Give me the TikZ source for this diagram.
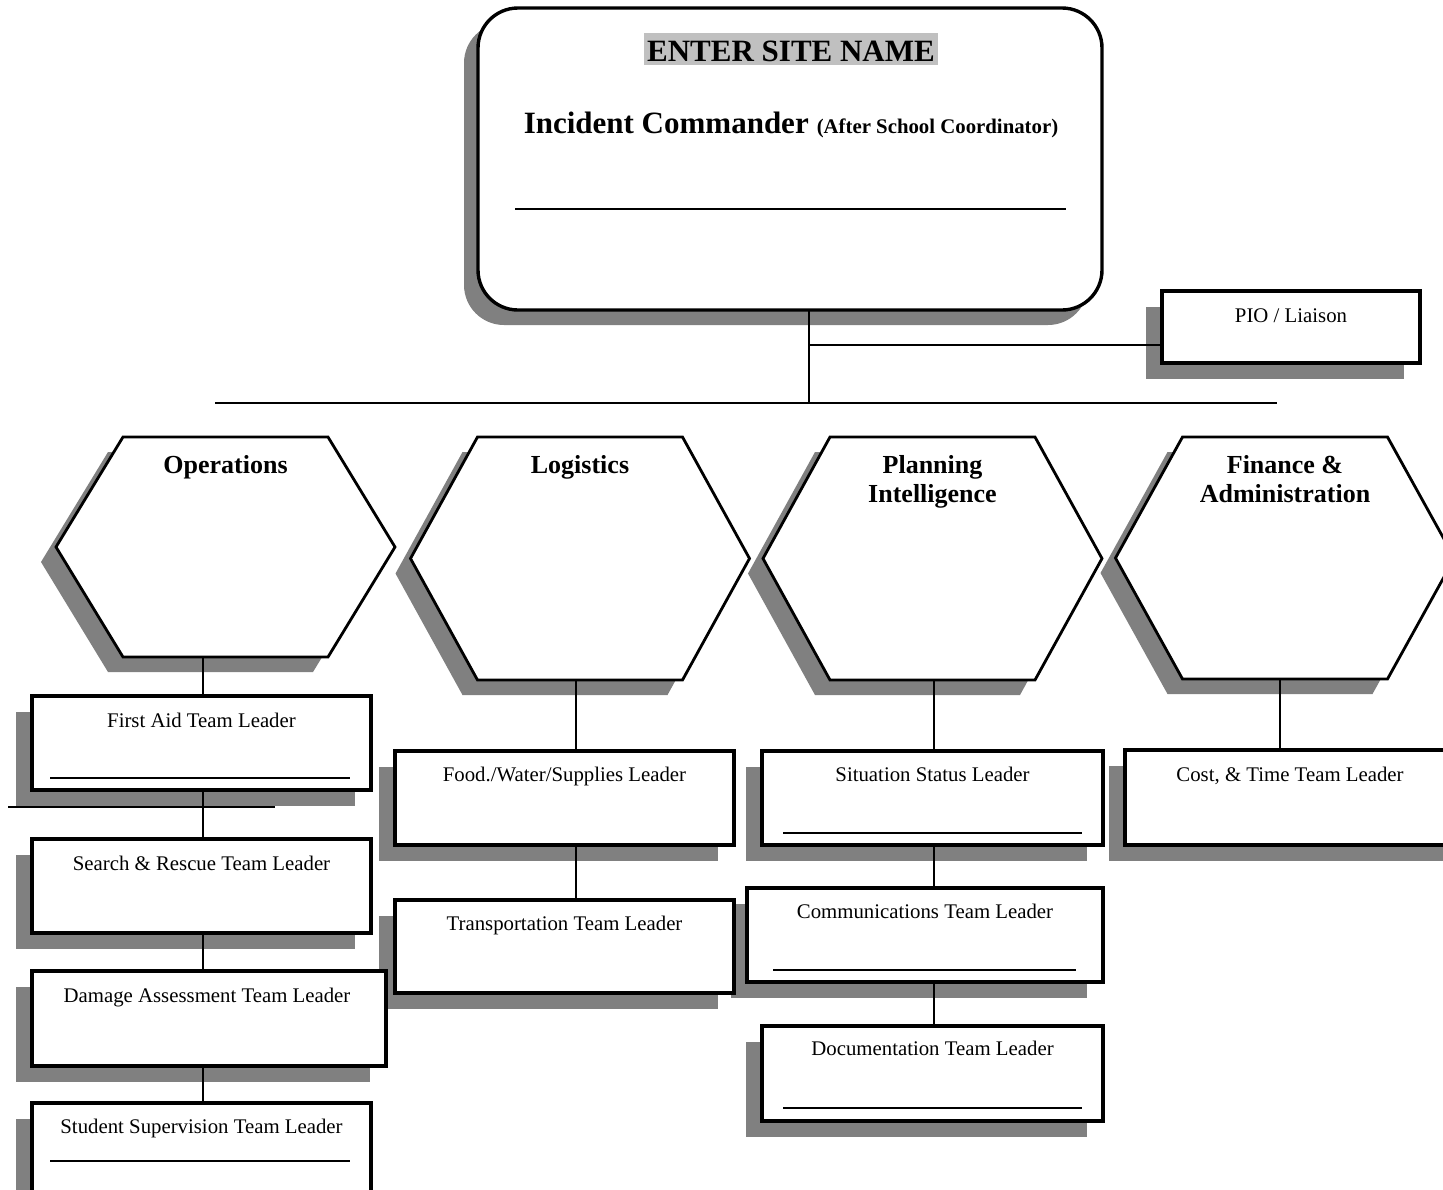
\documentclass[tikz,border=0pt]{standalone}
\usepackage{fontspec}
\setmainfont{Liberation Serif}
\usetikzlibrary{calc,shadows}
\definecolor{shadowgray}{RGB}{128,128,128}
\definecolor{hilite}{RGB}{192,192,192}
\tikzset{
  hexcore/.style={minimum width=205pt, anchor=north, inner sep=0pt, outer sep=0pt},
  hexline/.style={draw=black, fill=white, line width=2.8pt, line join=miter},
  hexshadow/.style={fill=shadowgray, draw=none},
  hextitle/.style={font=\fontsize{26}{29.5}\selectfont\bfseries, align=center, anchor=north, inner sep=0pt},
  lbox/.style={draw=black, fill=white, line width=3.4pt, anchor=north west, inner sep=0pt, outer sep=0pt,
    drop shadow={shadow xshift=-16pt, shadow yshift=-16pt, fill=shadowgray, opacity=1}},
  mainbox/.style={draw=black, fill=white, line width=3.4pt, rounded corners=40pt, anchor=north west,
    inner sep=0pt, outer sep=0pt, minimum width=624pt, minimum height=302pt,
    drop shadow={shadow xshift=-14pt, shadow yshift=-15pt, fill=shadowgray, opacity=1}},
  lbl/.style={font=\fontsize{20.8}{24}\selectfont, anchor=base, inner sep=0pt},
  sig/.style={draw=black, line width=2pt},
  conn/.style={draw=black, line width=2.8pt}
}
\newcommand\hexa[4]{%
  \node[hexcore, minimum height=#3pt] (#1) at (#2,437) {};
  \path[hexshadow] ($(#1.north west)+(-15,15)$) -- ($(#1.north east)+(-15,15)$) -- ($(#1.east)+(52,15)$)
     -- ($(#1.south east)+(-15,15)$) -- ($(#1.south west)+(-15,15)$) -- ($(#1.west)+(-82,15)$) -- cycle;
  \draw[hexline] (#1.north west) -- (#1.north east) -- ($(#1.east)+(67,0)$) -- (#1.south east)
     -- (#1.south west) -- ($(#1.west)+(-67,0)$) -- cycle;
  \node[hextitle] (#1-t) at ($(#1.north)+(0,18)$) {#4};
}
\begin{document}
\begin{tikzpicture}[x=1pt,y=-1pt]
\useasboundingbox[fill=white] (0,0) rectangle (1443,1189);

% Incident commander
\node[mainbox] (ic) at (478,8) {};
\node[fill=hilite, font=\fontsize{31}{36}\selectfont\bfseries, text height=24pt, text depth=0pt,
  inner xsep=3pt, inner ysep=4pt, anchor=base] (site) at (791,61) {ENTER SITE NAME};
\node[anchor=base, inner sep=0pt] (icname) at (791,133)
  {{\fontsize{31}{36}\selectfont\bfseries Incident Commander}\hspace{8pt}{\fontsize{20.8}{24}\selectfont\bfseries (After School Coordinator)}};
\draw[sig] ($(ic.north west)+(37,201)$) -- ($(ic.north east)+(-36,201)$);

% PIO
\node[lbox, minimum width=258pt, minimum height=72pt] (pio) at (1162,291) {};
\node[lbl] (pio-t) at ($(pio.north)+(0,31)$) {PIO / Liaison};

% Hexagons (right to left)
\hexa{fin}{1285}{242}{Finance \&\\Administration}
\hexa{plan}{932.5}{243}{Planning\\Intelligence}
\hexa{logi}{580}{243}{Logistics}
\hexa{ops}{225.5}{220}{Operations}

% Finance column
\node[lbox, minimum width=335pt, minimum height=95pt] (ct) at (1125,750) {};
\node[lbl] (ct-t) at (1290,781) {Cost, \& Time Team Leader};

% Planning column
\node[lbox, minimum width=341pt, minimum height=94pt] (st) at (762,751) {};
\node[lbl] (st-t) at ($(st.north)+(0,30)$) {Situation Status Leader};
\draw[sig] ($(st.south west)+(21,-12)$) -- ($(st.south east)+(-21,-12)$);
\node[lbox, minimum width=356pt, minimum height=94pt] (cm) at (747,888) {};
\node[lbl] (cm-t) at ($(cm.north)+(0,30)$) {Communications Team Leader};
\draw[sig] ($(cm.south west)+(26,-12)$) -- ($(cm.south east)+(-27,-12)$);
\node[lbox, minimum width=341pt, minimum height=95pt] (dc) at (762,1026) {};
\node[lbl] (dc-t) at ($(dc.north)+(0,29.5)$) {Documentation Team Leader};
\draw[sig] ($(dc.south west)+(21,-13)$) -- ($(dc.south east)+(-21,-13)$);

% Logistics column
\node[lbox, minimum width=339pt, minimum height=94pt] (fw) at (395,751) {};
\node[lbl] (fw-t) at ($(fw.north)+(0,30)$) {Food./Water/Supplies Leader};
\node[lbox, minimum width=339pt, minimum height=93pt] (tr) at (395,900) {};
\node[lbl] (tr-t) at ($(tr.north)+(0,30)$) {Transportation Team Leader};

% Operations column
\node[lbox, minimum width=339pt, minimum height=94pt] (fa) at (32,696) {};
\node[lbl] (fa-t) at ($(fa.north)+(0,31)$) {First Aid Team Leader};
\draw[sig] ($(fa.south west)+(18,-12)$) -- ($(fa.south east)+(-21,-12)$);
\node[lbox, minimum width=339pt, minimum height=94pt] (sr) at (32,839) {};
\node[lbl] (sr-t) at ($(sr.north)+(0,31)$) {Search \& Rescue Team Leader};
\node[lbox, minimum width=354pt, minimum height=95pt] (da) at (32,971) {};
\node[lbl] (da-t) at ($(da.north)+(-2,31)$) {Damage Assessment Team Leader};
\node[lbox, minimum width=339pt, minimum height=100pt] (ss) at (32,1103) {};
\node[lbl] (ss-t) at ($(ss.north)+(0,30)$) {Student Supervision Team Leader};
\draw[sig] ($(ss.north west)+(18,58)$) -- ($(ss.north east)+(-21,58)$);

% Connectors
\coordinate (j1) at (809,403);
\coordinate (pj) at (809,345);
\coordinate (hl) at (215,403);
\coordinate (hr) at (1277,403);
\draw[conn] (ic.south -| j1) -- (j1);
\draw[conn] (pj) -- (pj -| pio.west);
\draw[conn] (hl) -- (hr);

\coordinate (xo) at (203,0);
\draw[conn] (ops.south -| xo) -- (fa.north -| xo);
\draw[conn] (fa.south -| xo) -- (sr.north -| xo);
\draw[conn] (sr.south -| xo) -- (da.north -| xo);
\draw[conn] (da.south -| xo) -- (ss.north -| xo);
\coordinate (s1) at (8,807);
\coordinate (s2) at (275,807);
\draw[conn] (s1) -- (s2);

\coordinate (xl) at (576,0);
\draw[conn] (logi.south -| xl) -- (fw.north -| xl);
\draw[conn] (fw.south -| xl) -- (tr.north -| xl);

\coordinate (xp) at (934,0);
\draw[conn] (plan.south -| xp) -- (st.north -| xp);
\draw[conn] (st.south -| xp) -- (cm.north -| xp);
\draw[conn] (cm.south -| xp) -- (dc.north -| xp);

\coordinate (xf) at (1280,0);
\draw[conn] (fin.south -| xf) -- (ct.north -| xf);
\end{tikzpicture}
\end{document}
